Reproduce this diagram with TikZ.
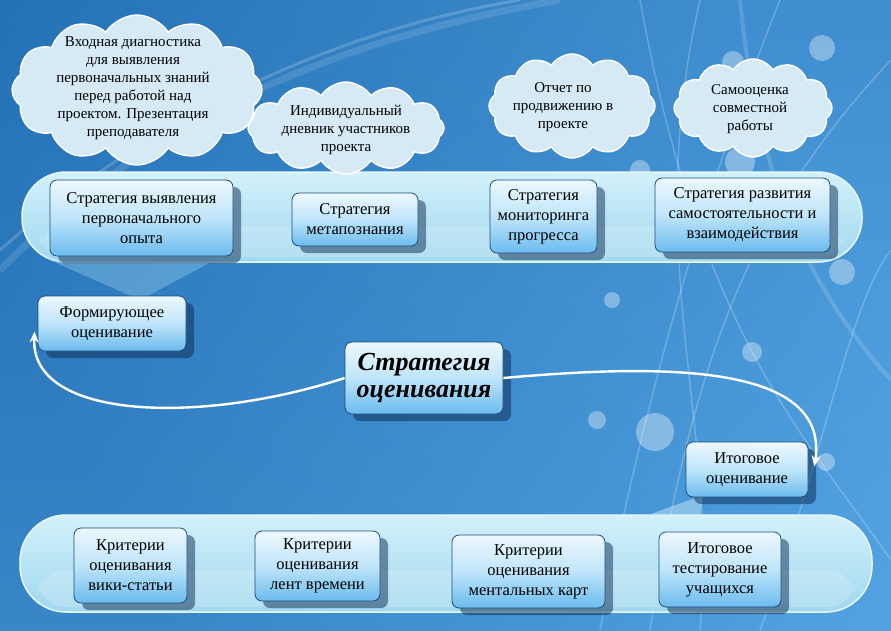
\documentclass[tikz,border=0pt]{standalone}
\usepackage{fontspec}
\setmainfont{Liberation Serif}
\usetikzlibrary{shapes.symbols,shadows,calc,arrows.meta}
\definecolor{bgA}{HTML}{1E6BB0}
\definecolor{bgB}{HTML}{5AAAE8}
\definecolor{bandT}{HTML}{D3F1FB}
\definecolor{bandB}{HTML}{A0D8EF}
\definecolor{bandE}{HTML}{E6F8FD}
\definecolor{boxT}{HTML}{EEF8FE}
\definecolor{boxM}{HTML}{BFE5FA}
\definecolor{boxB}{HTML}{6BBBEE}
\definecolor{boxD}{HTML}{1B4C7C}
\definecolor{cloudF}{HTML}{D5EAF4}
\definecolor{shad}{HTML}{0C2A50}
\begin{document}
\begin{tikzpicture}[x=1pt,y=-1pt,
  box/.style={rectangle, rounded corners=7pt, draw=boxD, line width=0.8pt,
    top color=boxT, bottom color=boxB, middle color=boxM,
    align=center, inner sep=2pt, text=black,
    font=\fontsize{16.5}{20}\selectfont,
    drop shadow={shadow xshift=8pt, shadow yshift=-7pt, opacity=0.5, fill=shad}},
  cloudshape/.style={cloud, cloud puffs=12, cloud puff arc=115, cloud ignores aspect,
    fill=cloudF, draw=white, line width=1.4pt, inner sep=0pt},
  cloudtext/.style={align=center, text=black, font=\fontsize{15}{18}\selectfont},
  bandstyle/.style={top color=bandT, bottom color=bandB, draw=bandE, line width=1.5pt},
  flow/.style={draw=white, line width=2.4pt, -{Stealth[length=11pt,width=9pt]}},
  deco/.style={draw=white, opacity=0.22, line width=1.5pt},
  bubble/.style={fill=white, opacity=0.35}
]
\useasboundingbox (0,0) rectangle (891,630);
% background
\shade[left color=bgA, right color=bgB, shading angle=120] (0,0) rectangle (891,630);
\shade[top color=bgA, bottom color=bgB, opacity=0.45] (0,0) rectangle (891,630);
% decorative swooshes
\draw[deco, line width=7pt, opacity=0.12] (0,270) .. controls (150,120) and (330,40) .. (560,0);
\draw[deco, line width=3pt, opacity=0.18] (0,250) .. controls (160,110) and (340,30) .. (520,0);
\draw[deco] (600,630) .. controls (640,420) and (700,200) .. (780,0);
\draw[deco] (650,630) .. controls (690,380) and (740,220) .. (891,60);
\draw[deco] (700,630) .. controls (720,430) and (640,260) .. (700,0);
\draw[deco] (891,560) .. controls (800,430) and (700,330) .. (640,0);
\draw[deco] (760,630) .. controls (820,470) and (850,300) .. (891,250);
\draw[deco, opacity=0.15, line width=4pt] (891,380) .. controls (820,300) and (760,200) .. (740,0);
% bubbles
\fill[bubble] (822,48) circle (13);
\fill[bubble] (733,62) circle (11);
\fill[bubble] (740,162) circle (15);
\fill[bubble] (640,170) circle (10);
\fill[bubble] (842,272) circle (13);
\fill[bubble] (597,420) circle (9);
\fill[bubble] (655,432) circle (19);
\fill[bubble] (752,352) circle (10);
\fill[bubble] (826,462) circle (9);
\fill[bubble] (375,592) circle (9);
\fill[bubble] (612,300) circle (8);
% top band with tail
\draw[bandstyle, rounded corners=44pt] (22,172) rectangle (862,262);
\fill[bandB, opacity=0.35] (45,258) -- (215,260) -- (140,300) -- cycle;
\fill[white, opacity=0.18, rounded corners=25pt] (40,226) rectangle (845,257);
% bottom band with tail
\draw[bandstyle, rounded corners=46pt] (20,515) rectangle (872,612);
\fill[bandT, opacity=0.45] (640,518) -- (700,518) -- (703,495) -- cycle;
\fill[white, opacity=0.18, rounded corners=28pt] (38,570) rectangle (855,607);
% clouds
\node[cloudshape, minimum width=250pt, minimum height=150pt] (c1) at (137,90) {};
\node[cloudtext] (t1) at (133,88) {Входная диагностика\\для выявления\\первоначальных знаний\\перед работой над\\проектом. Презентация\\преподавателя};
\node[cloudshape, minimum width=196pt, minimum height=92pt] (c2) at (346,128) {};
\node[cloudtext] (t2) at (346,130) {Индивидуальный\\дневник участников\\проекта};
\node[cloudshape, minimum width=166pt, minimum height=104pt] (c3) at (572,106) {};
\node[cloudtext] (t3) at (563,107) {Отчет по\\продвижению в\\проекте};
\node[cloudshape, minimum width=158pt, minimum height=98pt] (c4) at (753,108) {};
\node[cloudtext] (t4) at (750,109) {Самооценка\\совместной\\работы};
% top boxes
\node[box, minimum width=183pt, minimum height=76pt] (b1) at (141.5,218) {Стратегия выявления\\первоначального\\опыта};
\node[box, minimum width=126pt, minimum height=53pt] (b2) at (355,219.5) {Стратегия\\метапознания};
\node[box, minimum width=107pt, minimum height=73pt] (b3) at (543.5,216.5) {Стратегия\\мониторинга\\прогресса};
\node[box, minimum width=175pt, minimum height=74pt] (b4) at (742.5,215) {Стратегия развития\\самостоятельности и\\взаимодействия};
% middle
\node[box, minimum width=148pt, minimum height=55pt] (form) at (112,323.5) {Формирующее\\оценивание};
\node[box, minimum width=158pt, minimum height=72pt, font=\fontsize{26}{27}\selectfont\bfseries\itshape] (center) at (424,378) {Стратегия\\оценивания};
\node[box, minimum width=122pt, minimum height=55pt] (itog) at (747,469.5) {Итоговое\\оценивание};
% bottom boxes
\node[box, minimum width=113pt, minimum height=75pt] (k1) at (130.5,565.5) {Критерии\\оценивания\\вики-статьи};
\node[box, minimum width=125pt, minimum height=70pt] (k2) at (317.5,566) {Критерии\\оценивания\\лент времени};
\node[box, minimum width=153pt, minimum height=73pt] (k3) at (528.5,571.5) {Критерии\\оценивания\\ментальных карт};
\node[box, minimum width=122pt, minimum height=75pt] (k4) at (720,569.5) {Итоговое\\тестирование\\учащихся};
% connectors
\draw[flow] (center.west) .. controls (200,425) and (30,420) .. ([xshift=-3pt,yshift=-8pt]form.west);
\draw[flow] (center.east) .. controls (650,365) and (830,360) .. ([xshift=6pt,yshift=3pt]itog.east);
\end{tikzpicture}
\end{document}
